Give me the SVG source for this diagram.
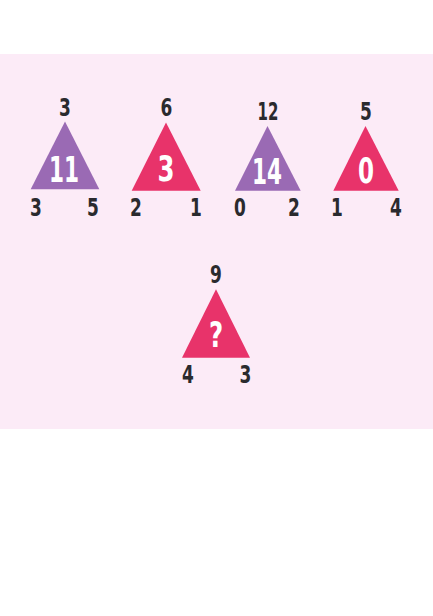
<svg xmlns="http://www.w3.org/2000/svg" width="433" height="616" viewBox="0 0 433 616">
<style>
.bg{fill:#fcebf7}
.purple{fill:#9a6ab4}
.red{fill:#e8336a}
.lab{font-family:"DejaVu Sans",sans-serif;font-weight:bold;font-size:25px;fill:#2a2a2e;text-anchor:middle}
.in{font-family:"DejaVu Sans",sans-serif;font-weight:bold;font-size:36px;fill:#ffffff;text-anchor:middle}
</style>
<rect width="433" height="616" fill="#ffffff"/>
<rect class="bg" x="0" y="54" width="433" height="375"/>
<g id="t1">
<polygon class="purple" points="65,121.5 30.7,189.3 99.3,189.3"/>
<text class="in" transform="translate(64,181.5) scale(0.6,1)">11</text>
<text class="lab" transform="translate(65,116) scale(0.68,1)">3</text>
<text class="lab" transform="translate(36,216) scale(0.68,1)">3</text>
<text class="lab" transform="translate(93,216) scale(0.68,1)">5</text>
</g>
<g id="t2">
<polygon class="red" points="166,122.5 131.7,190.7 200.7,190.7"/>
<text class="in" transform="translate(166,180.7) scale(0.68,1)">3</text>
<text class="lab" transform="translate(166.5,116) scale(0.68,1)">6</text>
<text class="lab" transform="translate(136,216) scale(0.68,1)">2</text>
<text class="lab" transform="translate(196,216) scale(0.68,1)">1</text>
</g>
<g id="t3">
<polygon class="purple" points="267.5,126 235,190.7 300.7,190.7"/>
<text class="in" transform="translate(267,184) scale(0.6,1)">14</text>
<text class="lab" transform="translate(268,120) scale(0.6,1)">12</text>
<text class="lab" transform="translate(240,216) scale(0.68,1)">0</text>
<text class="lab" transform="translate(294,216) scale(0.68,1)">2</text>
</g>
<g id="t4">
<polygon class="red" points="365.5,126 333.3,190.7 398.7,190.7"/>
<text class="in" transform="translate(366,183) scale(0.64,1)">0</text>
<text class="lab" transform="translate(366,119.5) scale(0.68,1)">5</text>
<text class="lab" transform="translate(337,216) scale(0.68,1)">1</text>
<text class="lab" transform="translate(396,216) scale(0.68,1)">4</text>
</g>
<g id="t5">
<polygon class="red" points="216,289.3 182,357.7 250,357.7"/>
<text class="in" transform="translate(216,346.7) scale(0.68,1)">?</text>
<text class="lab" transform="translate(216,283) scale(0.68,1)">9</text>
<text class="lab" transform="translate(188,383) scale(0.68,1)">4</text>
<text class="lab" transform="translate(245.5,383) scale(0.68,1)">3</text>
</g>
<g id="connectors"/>
</svg>
